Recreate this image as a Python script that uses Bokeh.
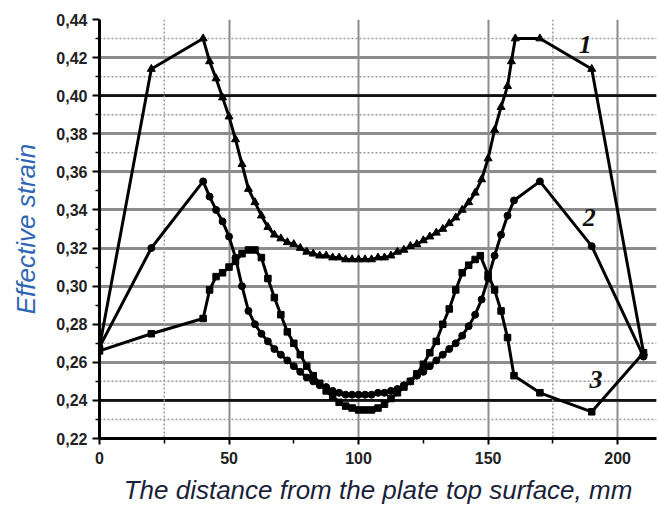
from bokeh.plotting import figure
from bokeh.models import FixedTicker, CustomJSTickFormatter, Span, Range1d
from bokeh.core.properties import value
from bokeh.embed import file_html
from bokeh.resources import INLINE

# ---- data ----
x1 = [0, 20, 40, 42.5, 45, 47.5, 50, 52.5, 55, 57.5, 60, 62.5, 65, 67.5, 70, 72.5, 75, 77.5,
      80, 82.5, 85, 87.5, 90, 92.5, 95, 97.5, 100, 102.5, 105, 107.5, 110, 112.5, 115, 117.5,
      120, 122.5, 125, 127.5, 130, 132.5, 135, 137.5, 140, 142.5, 145, 147.5, 150, 152.5, 155,
      157.5, 159, 160.5, 170, 190, 210]
y1 = [0.268, 0.414, 0.430, 0.418, 0.409, 0.399, 0.389, 0.377, 0.364, 0.351, 0.344, 0.337, 0.331,
      0.327, 0.325, 0.323, 0.322, 0.320, 0.318, 0.317, 0.316, 0.316, 0.315, 0.315, 0.314, 0.314,
      0.314, 0.314, 0.314, 0.315, 0.315, 0.316, 0.318, 0.319, 0.321, 0.322, 0.324, 0.326, 0.328,
      0.330, 0.333, 0.336, 0.340, 0.344, 0.349, 0.356, 0.367, 0.382, 0.394, 0.405, 0.418, 0.430,
      0.430, 0.414, 0.265]

x2 = [0, 20, 40, 42.5, 45, 47.5, 50, 52.5, 55, 57.5, 60, 62.5, 65, 67.5, 70, 72.5, 75, 77.5,
      80, 82.5, 85, 87.5, 90, 92.5, 95, 97.5, 100, 102.5, 105, 107.5, 110, 112.5, 115, 117.5,
      120, 122.5, 125, 127.5, 130, 132.5, 135, 137.5, 140, 142.5, 145, 147.5, 150, 152.5, 155,
      157.5, 160, 170, 190, 210]
y2 = [0.268, 0.320, 0.355, 0.347, 0.340, 0.334, 0.326, 0.315, 0.300, 0.287, 0.280, 0.275, 0.271,
      0.267, 0.264, 0.261, 0.258, 0.255, 0.252, 0.250, 0.248, 0.247, 0.245, 0.244, 0.243, 0.243,
      0.243, 0.243, 0.243, 0.244, 0.244, 0.245, 0.246, 0.248, 0.250, 0.253, 0.255, 0.258, 0.261,
      0.264, 0.267, 0.270, 0.274, 0.279, 0.285, 0.293, 0.304, 0.316, 0.327, 0.337, 0.345, 0.355,
      0.321, 0.263]

x3 = [0, 20, 40, 42.5, 45, 47.5, 50, 52.5, 55, 57.5, 60, 62.5, 65, 67.5, 70, 72.5, 75, 77.5,
      80, 82.5, 85, 87.5, 90, 92.5, 95, 97.5, 100, 102.5, 105, 107.5, 110, 112.5, 115, 117.5,
      120, 122.5, 125, 127.5, 130, 132.5, 135, 137.5, 140, 142.5, 145, 147, 150, 152.5, 155,
      157.5, 160, 170, 190, 210]
y3 = [0.266, 0.275, 0.283, 0.298, 0.305, 0.307, 0.310, 0.313, 0.317, 0.319, 0.319, 0.315, 0.304,
      0.294, 0.285, 0.276, 0.270, 0.264, 0.258, 0.253, 0.249, 0.245, 0.242, 0.239, 0.237, 0.236,
      0.235, 0.235, 0.235, 0.236, 0.238, 0.241, 0.244, 0.247, 0.250, 0.254, 0.259, 0.265, 0.271,
      0.280, 0.288, 0.298, 0.307, 0.311, 0.314, 0.316, 0.306, 0.298, 0.287, 0.273, 0.253, 0.244,
      0.234, 0.265]

y_major = [0.22, 0.24, 0.26, 0.28, 0.30, 0.32, 0.34, 0.36, 0.38, 0.40, 0.42, 0.44]
y_minor = [0.23, 0.25, 0.27, 0.29, 0.31, 0.33, 0.35, 0.37, 0.39, 0.41, 0.43]
y_dark = [0.24, 0.40]
y_dotted = [0.23, 0.25, 0.27, 0.37, 0.39, 0.41, 0.43]
x_major = [0, 50, 100, 150, 200]
x_minor = [25, 75, 125, 175]
x_grid_solid = [50, 100, 150, 200]
x_grid_dotted = [25, 175]

curve_labels = ["1", "2", "3"]
label_x = [187.5, 189, 191.6]
label_y = [0.427, 0.336, 0.251]

x_title = "The distance from the plate top surface, mm"
y_title = "Effective strain"

p = figure(width=657, height=507, output_backend="svg", toolbar_location=None,
           x_range=Range1d(0, 215), y_range=Range1d(0.22, 0.44),
           min_border_left=99, min_border_right=1, min_border_top=19, min_border_bottom=69)
p.outline_line_color = None
p.background_fill_color = "white"
p.border_fill_color = "white"

# grids
p.xgrid.ticker = FixedTicker(ticks=x_grid_solid)
p.xgrid.grid_line_color = "#8c8c8c"
p.xgrid.grid_line_width = 2
p.ygrid.ticker = FixedTicker(ticks=y_major)
p.ygrid.grid_line_color = "#8c8c8c"
p.ygrid.grid_line_width = 2.8

for v in y_dark:
    p.add_layout(Span(location=v, dimension="width", line_color="#111111",
                      line_width=2.8, level="underlay"))
for v in y_dotted:
    p.add_layout(Span(location=v, dimension="width", line_color="#9a9a9a",
                      line_width=1.5, line_dash="2 2", level="underlay"))
for v in x_grid_dotted:
    p.add_layout(Span(location=v, dimension="height", line_color="#9a9a9a",
                      line_width=1.5, line_dash="2 2", level="underlay"))

# axes
for ax in (p.xaxis, p.yaxis):
    ax.axis_line_color = "black"
    ax.axis_line_width = 3
    ax.major_tick_line_color = "black"
    ax.major_tick_line_width = 2
    ax.minor_tick_line_color = "black"
    ax.minor_tick_line_width = 1.5
    ax.major_tick_in = 0
    ax.minor_tick_in = 0
    ax.major_label_text_font = "Liberation Sans"
    ax.major_label_text_font_size = "16px"
    ax.major_label_text_font_style = "bold"
    ax.major_label_text_color = "#222222"
    ax.axis_label_text_font = "Liberation Sans"
    ax.axis_label_text_font_style = "italic"
    ax.axis_label_text_font_size = "26px"

p.yaxis.ticker = FixedTicker(ticks=y_major, minor_ticks=y_minor)
p.yaxis.formatter = CustomJSTickFormatter(code="return tick.toFixed(2).replace('.', ',');")
p.yaxis.major_tick_out = 7
p.yaxis.minor_tick_out = 4
p.yaxis.major_label_standoff = 5
p.yaxis.axis_label = y_title
p.yaxis.axis_label_text_color = "#2f66b3"
p.yaxis.axis_label_standoff = 12

p.xaxis.ticker = FixedTicker(ticks=x_major, minor_ticks=x_minor)
p.xaxis.major_tick_out = 6
p.xaxis.minor_tick_out = 5
p.xaxis.major_label_standoff = 7
p.xaxis.axis_label = x_title
p.xaxis.axis_label_text_color = "#1a1f3a"
p.xaxis.axis_label_standoff = 8

# curves
p.line(x1, y1, line_color="black", line_width=3)
p.scatter(x1, y1, marker="triangle", size=8, color="black")
p.line(x2, y2, line_color="black", line_width=3)
p.scatter(x2, y2, marker="circle", size=7, color="black")
p.line(x3, y3, line_color="black", line_width=3)
p.scatter(x3, y3, marker="square", size=6.5, color="black")

p.text(x=label_x, y=label_y, text=curve_labels, text_font=value("Liberation Serif"),
       text_font_style="bold italic", text_font_size="26px", text_color="#111111",
       text_align="center", text_baseline="middle")

open("out.html", "w").write(file_html(p, INLINE))
